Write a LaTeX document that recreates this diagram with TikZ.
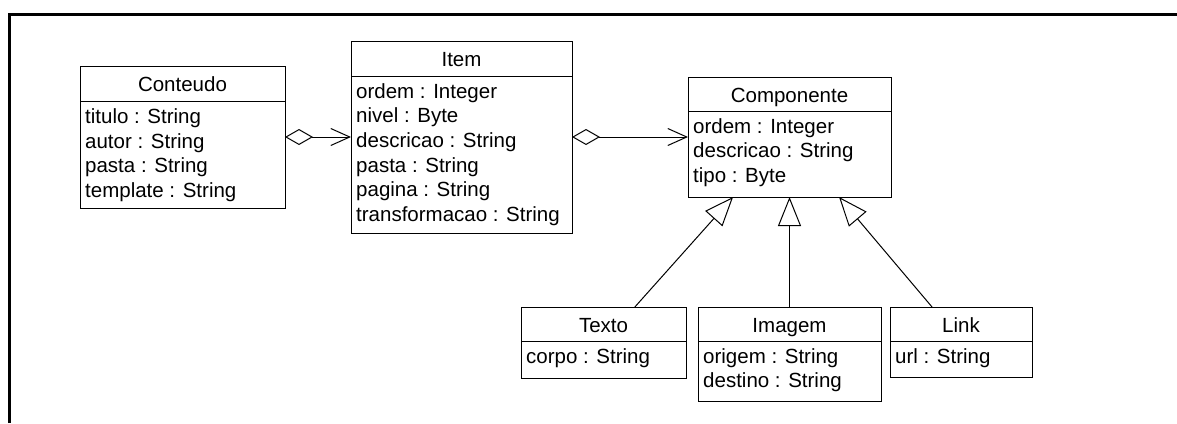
\documentclass[tikz,border=0pt]{standalone}
\usepackage{fontspec}
\setmainfont{Liberation Sans}
\usetikzlibrary{arrows.meta,calc}

\tikzset{
  classbox/.style={rectangle, draw=black, line width=1pt, inner sep=0pt, outer sep=0pt},
  divider/.style={draw=black, line width=1pt},
  classtitle/.style={inner sep=0pt, font=\fontsize{20.5}{24.7}\selectfont},
  attrtext/.style={inner sep=0pt, font=\fontsize{20.5}{24.7}\selectfont},
  assoc/.style={draw=black, line width=1pt},
  aggregation/.style={assoc, arrows={Diamond[open,length=28pt,width=16pt]-Straight Barb[length=19pt,width=17pt]}},
  generalization/.style={assoc, arrows={-Triangle[open,length=29pt,width=23pt]}},
  frameline/.style={draw=black, line width=3pt, line join=miter}
}

% class box: name, left, top, right, bottom, divider, title
\newcommand{\umlbox}[7]{%
  \node[classbox, anchor=north west, minimum width={#4-#2}, minimum height={#5-#3}] (#1) at ({#2},{#3}) {};
  \draw[divider] ({#2},{#6}) -- ({#4},{#6});
  \node[classtitle, anchor=base] (#1-title) at ({(#2+#4)/2},{#3+25.5}) {#7};
}
% attribute lines: name, left, first baseline, list
\newcommand{\umlattrs}[4]{%
  \foreach \a [count=\i] in {#4} {
    \node[attrtext, anchor=base west] (#1-a\i) at ({#2},{#3+(\i-1)*24.7}) {\a};
  }
}

\begin{document}
\begin{tikzpicture}[x=1pt,y=-1pt]
  \useasboundingbox (0,0) rectangle (1177,423);

  % frame
  \draw[frameline] (9.5,423) -- (9.5,14.5) -- (1177,14.5);

  % classes
  \umlbox{conteudo}{80}{66}{285}{208}{101}{Conteudo}
  \umlattrs{conteudo}{85}{123.5}{titulo : String, autor : String, pasta : String, template : String}

  \umlbox{item}{351}{41}{572}{233}{76}{Item}
  \umlattrs{item}{356}{98}{ordem : Integer, nivel : Byte, descricao : String, pasta : String, pagina : String, transformacao : String}

  \umlbox{componente}{688}{77}{891}{197}{111}{Componente}
  \umlattrs{componente}{693}{133}{ordem : Integer, descricao : String, tipo : Byte}

  \umlbox{texto}{521}{307}{686}{378}{341}{Texto}
  \umlattrs{texto}{526}{363}{corpo : String}

  \umlbox{imagem}{698}{307}{881}{401}{341}{Imagem}
  \umlattrs{imagem}{703}{363}{origem : String, destino : String}

  \umlbox{link}{890}{307}{1032}{377}{341}{Link}
  \umlattrs{link}{895}{363}{url : String}

  % aggregations
  \coordinate (aggy) at (0,137);
  \draw[aggregation] (conteudo.east |- aggy) -- (item.west |- aggy);
  \draw[aggregation] (item.east |- aggy) -- (componente.west |- aggy);

  % generalizations
  \draw[generalization] ($(texto.north west)!0.69!(texto.north east)$) -- ($(componente.south west)!0.222!(componente.south east)$);
  \draw[generalization] (imagem.north) -- (componente.south);
  \draw[generalization] ($(link.north west)!0.296!(link.north east)$) -- ($(componente.south west)!0.744!(componente.south east)$);
\end{tikzpicture}
\end{document}
